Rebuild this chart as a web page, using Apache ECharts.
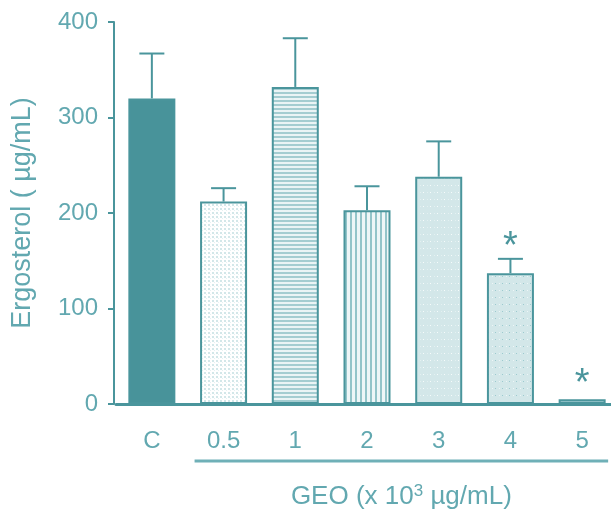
<!DOCTYPE html>
<html>
<head>
<meta charset="utf-8">
<script src="https://cdn.jsdelivr.net/npm/echarts@6/dist/echarts.min.js"></script>
<style>html,body{margin:0;padding:0;background:#fff;}#c{width:611px;height:517px;}</style>
</head>
<body>
<div id="c"></div>
<script>
// ---- data ----
var categories = ['C', '0.5', '1', '2', '3', '4', '5'];
var means = [320, 212, 332, 203, 238, 137, 5];
var errors = [47, 14, 51, 25, 37, 15, 0];
var significance = ['', '', '', '', '', '*', '*'];
var yTicks = [0, 100, 200, 300, 400];
var yTitle = 'Ergosterol ( \u00b5g/mL)';

// ---- styles ----
var TEAL = '#4a959c';
var TXT = '#62a8b0';
var FONT = 'Liberation Sans';

function makePattern(w, h, bg, draw) {
  var c = document.createElement('canvas');
  c.width = w; c.height = h;
  var g = c.getContext('2d');
  g.fillStyle = bg; g.fillRect(0, 0, w, h);
  draw(g);
  return { image: c, repeat: 'repeat' };
}
var patterns = [
  '#48939a',
  makePattern(4, 4, '#ffffff', function (g) { g.fillStyle = '#d3e7e9'; g.fillRect(0, 0, 2, 2); g.fillStyle = '#e6f1f2'; g.fillRect(2, 2, 1, 1); }),
  makePattern(1, 4, '#eaf4f5', function (g) { g.fillStyle = '#a4cdd1'; g.fillRect(0, 0, 1, 2); }),
  makePattern(5, 1, '#eef6f7', function (g) { g.fillStyle = '#93c4c9'; g.fillRect(0, 0, 2, 1); }),
  makePattern(7, 7, '#d3e7e9', function (g) { g.fillStyle = '#f6fbfb'; g.fillRect(3, 3, 1, 1); g.fillStyle = '#e3f0f1'; g.fillRect(0, 3, 1, 1); }),
  makePattern(7, 7, '#d3e7e9', function (g) { g.fillStyle = '#eef6f7'; g.fillRect(2, 3, 1, 1); g.fillStyle = '#9ccacf'; g.fillRect(5, 3, 1, 1); }),
  makePattern(4, 2, '#9fcbd0', function (g) { g.fillStyle = '#4a959c'; g.fillRect(0, 0, 2, 1); })
];

var barData = means.map(function (v, i) {
  return { value: v, itemStyle: { color: patterns[i] } };
});
var errData = means.map(function (v, i) { return [i, v, errors[i]]; });

var chart = echarts.init(document.getElementById('c'), null, { renderer: 'canvas' });
chart.setOption({
  animation: false,
  backgroundColor: '#ffffff',
  grid: { left: 116, top: 22, width: 502, bottom: 113, containLabel: false, outerBoundsMode: 'none' },
  xAxis: {
    type: 'category',
    data: categories,
    axisLine: { lineStyle: { color: TEAL, width: 3 } },
    axisTick: { alignWithLabel: true, length: 7, lineStyle: { color: TEAL, width: 2 } },
    axisLabel: { color: TXT, fontFamily: FONT, fontSize: 24, margin: 25, interval: 0 }
  },
  yAxis: {
    type: 'value',
    offset: 2,
    min: yTicks[0],
    max: yTicks[yTicks.length - 1],
    interval: yTicks[1] - yTicks[0],
    name: yTitle,
    nameLocation: 'middle',
    nameGap: 78,
    nameTextStyle: { color: TXT, fontFamily: FONT, fontSize: 27 },
    axisLine: { show: true, lineStyle: { color: TEAL, width: 2 } },
    axisTick: { show: true, length: 6, lineStyle: { color: TEAL, width: 2 } },
    axisLabel: { color: TXT, fontFamily: FONT, fontSize: 24, margin: 16 },
    splitLine: { show: false }
  },
  series: [
    {
      type: 'bar',
      data: barData,
      barWidth: 47,
      itemStyle: { borderColor: TEAL, borderWidth: 2 },
      z: 2
    },
    {
      type: 'custom',
      data: errData,
      z: 3,
      renderItem: function (params, api) {
        var i = api.value(0), m = api.value(1), e = api.value(2);
        var sig = significance[params.dataIndex];
        var base = api.coord([i, m]);
        var top = api.coord([i, m + e]);
        var half = 12.5;
        var children = [];
        if (e > 0) {
          children.push({ type: 'line', shape: { x1: base[0], y1: base[1], x2: top[0], y2: top[1] }, style: { stroke: TEAL, lineWidth: 2 } });
          children.push({ type: 'line', shape: { x1: top[0] - half, y1: top[1], x2: top[0] + half, y2: top[1] }, style: { stroke: TEAL, lineWidth: 2 } });
        }
        if (sig) {
          children.push({ type: 'text', x: top[0], y: top[1] - (e > 0 ? 11 : 15), style: { text: sig, fill: TEAL, font: '38px ' + FONT, textAlign: 'center', textVerticalAlign: 'middle' } });
        }
        return { type: 'group', children: children };
      }
    }
  ]
});

// decorative underline and x-axis title, positioned from the chart's own scale
var p1 = chart.convertToPixel({ xAxisIndex: 0 }, categories[1]);
var p6 = chart.convertToPixel({ xAxisIndex: 0 }, categories[6]);
var y0 = chart.convertToPixel({ yAxisIndex: 0 }, 0);
chart.setOption({
  graphic: [
    { type: 'line', shape: { x1: p1 - 29, y1: y0 + 57, x2: p6 + 26, y2: y0 + 57 }, style: { stroke: '#6fb0b7', lineWidth: 3 } },
    {
      type: 'text', x: (p1 - 29 + p6 + 26) / 2, y: y0 + 93,
      style: {
        text: '{a|GEO (x 10}{s|3}{a| \u00b5g/mL)}',
        textAlign: 'center', textVerticalAlign: 'middle',
        rich: {
          a: { fill: TXT, fontFamily: FONT, fontSize: 26 },
          s: { fill: TXT, fontFamily: FONT, fontSize: 17, verticalAlign: 'top', padding: [0, 0, 12, 0] }
        }
      }
    }
  ]
});
</script>
</body>
</html>
